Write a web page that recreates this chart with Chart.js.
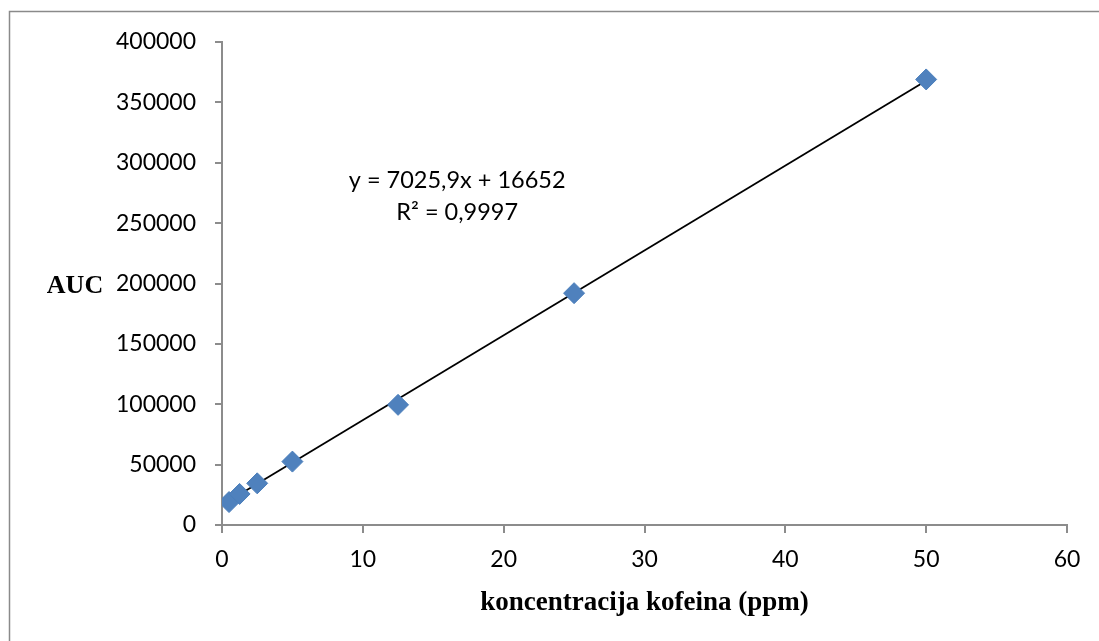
<!DOCTYPE html>
<html>
<head>
<meta charset="utf-8">
<script src="https://cdn.jsdelivr.net/npm/chart.js@4/dist/chart.umd.min.js"></script>
<style>
  html, body { margin: 0; padding: 0; background: #ffffff; }
  #wrap { position: relative; width: 1099px; height: 641px; }
</style>
</head>
<body>
<div id="wrap"><canvas id="c" width="1099" height="641"></canvas></div>
<script>
// Data
const concentrations = [0.5, 1.25, 2.5, 5, 12.5, 25, 50];
const aucValues = [19000, 25700, 34500, 52500, 99500, 192000, 369000];
const trendSlope = 7025.9;
const trendIntercept = 16652;
const trendX = [0.5, 50];
const equationLines = ['y = 7025,9x + 16652', 'R\u00B2 = 0,9997'];
const xTitle = 'koncentracija kofeina (ppm)';
const yTitle = 'AUC';
const xMin = 0, xMax = 60, xStep = 10;
const yMin = 0, yMax = 400000, yStep = 50000;
const equationAnchor = { x: 16.7, y: 285000 };

const scatterPoints = concentrations.map((x, i) => ({ x: x, y: aucValues[i] }));
const trendPoints = trendX.map(x => ({ x: x, y: trendSlope * x + trendIntercept }));

const tickFont = { family: 'Lato', size: 23 };
const axisGray = '#8c8c8c';

const framePlugin = {
  id: 'frame',
  beforeDraw(chart) {
    const ctx = chart.ctx;
    ctx.save();
    ctx.strokeStyle = '#8a8a8a';
    ctx.lineWidth = 1.5;
    ctx.strokeRect(9.5, 11.5, 1200, 800);
    ctx.restore();
  },
  afterDraw(chart) {
    const ctx = chart.ctx;
    const xs = chart.scales.x, ys = chart.scales.y;
    ctx.save();
    // y axis title (horizontal, left of tick labels)
    ctx.font = 'bold 26px "Liberation Serif"';
    ctx.fillStyle = '#000';
    ctx.textAlign = 'center';
    ctx.textBaseline = 'middle';
    ctx.fillText(yTitle, 75, ys.getPixelForValue(200000) + 3);
    // equation annotation
    ctx.font = '23.5px Lato';
    const ax = xs.getPixelForValue(equationAnchor.x);
    const ay = ys.getPixelForValue(equationAnchor.y);
    equationLines.forEach((t, i) => ctx.fillText(t, ax, ay + i * 32));
    ctx.restore();
  }
};

new Chart(document.getElementById('c'), {
  type: 'scatter',
  data: {
    datasets: [
      {
        type: 'line',
        data: trendPoints,
        borderColor: '#000000',
        borderWidth: 1.8,
        pointRadius: 0,
        fill: false,
        order: 2
      },
      {
        data: scatterPoints,
        pointStyle: 'rectRot',
        pointRadius: 10.5,
        pointHoverRadius: 10.5,
        backgroundColor: '#4f81bd',
        borderColor: '#4a7ebb',
        borderWidth: 1,
        order: 1
      }
    ]
  },
  options: {
    responsive: false,
    animation: false,
    events: [],
    layout: { padding: { left: 0, right: 32, top: 42, bottom: 0 } },
    plugins: { legend: { display: false }, tooltip: { enabled: false } },
    scales: {
      x: {
        type: 'linear',
        min: xMin, max: xMax,
        ticks: { stepSize: xStep, color: '#000', font: tickFont, padding: 13, maxRotation: 0, callback: v => String(v) },
        grid: { drawOnChartArea: false, drawTicks: true, tickLength: 8, color: axisGray, lineWidth: 2 },
        border: { color: axisGray, width: 2 },
        title: { display: true, text: xTitle, color: '#000', font: { family: 'Liberation Serif', size: 27, weight: 'bold' }, padding: { top: 10, bottom: 22 } },
        afterFit(scale) { scale.height = 116; }
      },
      y: {
        type: 'linear',
        min: yMin, max: yMax,
        ticks: { stepSize: yStep, color: '#000', font: tickFont, padding: 19, callback: v => String(v) },
        grid: { drawOnChartArea: false, drawTicks: true, tickLength: 7, color: axisGray, lineWidth: 2 },
        border: { color: axisGray, width: 2 },
        afterFit(scale) { scale.width = 222; }
      }
    }
  },
  plugins: [framePlugin]
});
</script>
</body>
</html>
